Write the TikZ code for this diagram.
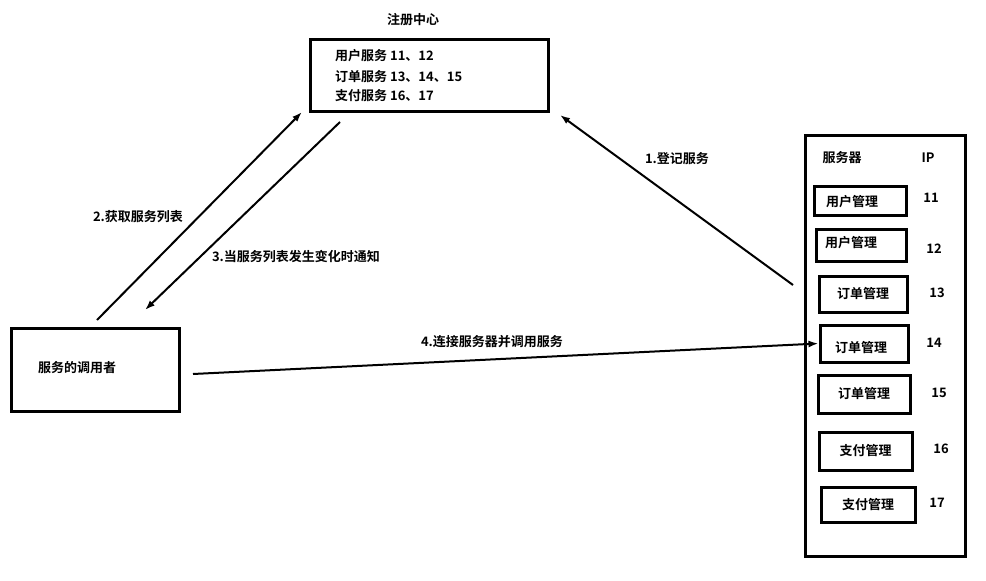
\documentclass[tikz,border=0pt]{standalone}
\usepackage{fontspec}
\setmainfont{Noto Sans CJK SC}[BoldFont={Noto Sans CJK SC Bold}]
\usetikzlibrary{arrows.meta}
\tikzset{
  box/.style={draw, line width=3pt},
  txt/.style={font=\fontsize{13}{15}\selectfont\bfseries, inner sep=0pt},
  mgr/.style={draw, line width=3pt, minimum width=90pt, minimum height=34pt, inner sep=0pt,
    font=\fontsize{13}{15}\selectfont\bfseries},
  link/.style={line width=2pt, -{Latex[length=10pt,width=7pt]}}
}

\begin{document}
\begin{tikzpicture}[x=1pt, y=-1pt]
                \useasboundingbox[fill=white] (0,0) rectangle (986,581);
                % registry
                \node[txt] (regtitle) at (413,20) {注册中心};
                \draw[box] (310,39) rectangle (548,111);
                \node[txt, anchor=west] (reg1) at (335,56) {用户服务 11、12};
                \node[txt, anchor=west] (reg2) at (335,77) {订单服务 13、14、15};
                \node[txt, anchor=west] (reg3) at (335,96) {支付服务 16、17};
                \coordinate (regL) at (302,112);
                \coordinate (regM) at (340,122);
                \coordinate (regR) at (560,115);
                % caller
                \draw[box] (11,328) rectangle (179,411);
                \node[txt] (caller) at (77,368) {服务的调用者};
                \coordinate (callA) at (97,320);
                \coordinate (callB) at (145,310);
                \coordinate (callC) at (193,374);
                % servers
                \draw[box] (805,135) rectangle (965,556);
                \node[txt] (srvhead) at (842,158) {服务器};
                \node[txt] (iphead) at (928,158) {IP};
                \coordinate (srvA) at (793,285);
                \node[mgr, minimum width=92pt, minimum height=29pt] (s1) at (860,200.5) {};
                \node[txt] at (852,202) {用户管理};
                \node[mgr, minimum width=90pt, minimum height=32pt] (s2) at (861,245) {};
                \node[txt] at (851,243) {用户管理};
                \node[mgr, minimum width=88pt, minimum height=36pt] (s3) at (863,294) {订单管理};
                \node[mgr, minimum width=88pt, minimum height=37pt] (s4) at (864,343.5) {};
                \node[txt] at (861,348) {订单管理};
                \node[mgr, minimum width=92pt, minimum height=38pt] (s5) at (864,394) {订单管理};
                \node[mgr, minimum width=93pt, minimum height=38pt] (s6) at (865.5,451) {支付管理};
                \node[mgr, minimum width=94pt, minimum height=35pt] (s7) at (868,504.5) {支付管理};
                \node[txt] (ip1) at (931,198) {11};
                \node[txt] (ip2) at (934,249) {12};
                \node[txt] (ip3) at (937,293) {13};
                \node[txt] (ip4) at (934,343) {14};
                \node[txt] (ip5) at (939,393) {15};
                \node[txt] (ip6) at (941,449) {16};
                \node[txt] (ip7) at (937,503) {17};
                % arrows
                \draw[link] (srvA) -- (regR);
                \draw[link] (callA) -- (regL);
                \draw[link] (regM) -- (callB);
                \draw[link] (callC) -- (s4.west);
                \node[txt] (lab1) at (677,159) {1.登记服务};
                \node[txt] (lab2) at (138,217) {2.获取服务列表};
                \node[txt] (lab3) at (296,257) {3.当服务列表发生变化时通知};
                \node[txt] (lab4) at (492,342) {4.连接服务器并调用服务};
            \end{tikzpicture}
\end{document}
